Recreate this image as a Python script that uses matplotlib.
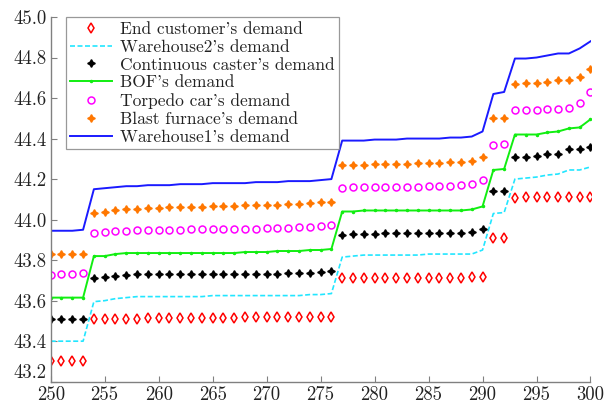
import numpy as np
import matplotlib
matplotlib.use("Agg")
import matplotlib.pyplot as plt

periods = list(range(250, 301))

end_customer = (
    [43.30] * 4
    + [43.51, 43.51, 43.51, 43.51, 43.51, 43.515, 43.515, 43.515, 43.515, 43.515, 43.515, 43.515,
       43.515, 43.515, 43.52, 43.52, 43.52, 43.52, 43.52, 43.52, 43.52, 43.52, 43.52]
    + [43.71] * 12 + [43.715, 43.715]
    + [43.91, 43.91]
    + [44.105] + [44.11] * 7
)
warehouse2 = (
    [43.40] * 4
    + [43.595, 43.60, 43.61, 43.615, 43.62, 43.62, 43.62, 43.62, 43.62, 43.62, 43.62, 43.625,
       43.625, 43.625, 43.625, 43.625, 43.625, 43.625, 43.625, 43.625, 43.63, 43.63, 43.635]
    + [43.815, 43.82, 43.825, 43.825, 43.825, 43.825, 43.825, 43.825, 43.83, 43.83, 43.83, 43.83,
       43.83, 43.85]
    + [44.03, 44.035]
    + [44.20, 44.205, 44.21, 44.22, 44.225, 44.245, 44.245, 44.26]
)
caster = (
    [43.51] * 4
    + [43.71, 43.715, 43.72, 43.725, 43.73, 43.73, 43.73, 43.73, 43.73, 43.73, 43.73, 43.73,
       43.73, 43.73, 43.73, 43.73, 43.73, 43.73, 43.735, 43.735, 43.735, 43.74, 43.745]
    + [43.925, 43.93, 43.93, 43.93, 43.935, 43.935, 43.935, 43.935, 43.935, 43.935, 43.935, 43.935,
       43.94, 43.955]
    + [44.14, 44.14]
    + [44.31, 44.31, 44.315, 44.325, 44.325, 44.35, 44.35, 44.36]
)
bof = (
    [43.615] * 4
    + [43.82, 43.82, 43.83, 43.835, 43.835, 43.835, 43.835, 43.835, 43.835, 43.835, 43.835, 43.835,
       43.835, 43.835, 43.84, 43.84, 43.84, 43.845, 43.845, 43.845, 43.85, 43.85, 43.855]
    + [44.04, 44.04, 44.045, 44.045, 44.045, 44.045, 44.045, 44.045, 44.045, 44.045, 44.045, 44.045,
       44.05, 44.065]
    + [44.245, 44.25]
    + [44.42, 44.42, 44.42, 44.43, 44.435, 44.45, 44.455, 44.495]
)
torpedo = (
    [43.725, 43.73, 43.73, 43.735]
    + [43.935, 43.94, 43.945, 43.945, 43.95, 43.95, 43.95, 43.95, 43.95, 43.955, 43.955, 43.955,
       43.955, 43.955, 43.955, 43.955, 43.96, 43.96, 43.96, 43.965, 43.965, 43.97, 43.975]
    + [44.155, 44.16, 44.16, 44.16, 44.16, 44.16, 44.16, 44.16, 44.165, 44.165, 44.165, 44.17,
       44.175, 44.195]
    + [44.37, 44.375]
    + [44.54, 44.54, 44.54, 44.545, 44.545, 44.55, 44.575, 44.63]
)
blast_furnace = (
    [43.83] * 4
    + [44.035, 44.04, 44.045, 44.05, 44.05, 44.055, 44.055, 44.06, 44.06, 44.06, 44.06, 44.065,
       44.065, 44.065, 44.07, 44.07, 44.07, 44.07, 44.075, 44.075, 44.08, 44.085, 44.085]
    + [44.27, 44.27, 44.27, 44.275, 44.275, 44.275, 44.275, 44.28, 44.28, 44.28, 44.285, 44.285,
       44.29, 44.31]
    + [44.50, 44.50]
    + [44.67, 44.675, 44.675, 44.68, 44.69, 44.69, 44.705, 44.745]
)
warehouse1 = (
    [43.945, 43.945, 43.945, 43.95]
    + [44.15, 44.155, 44.16, 44.165, 44.165, 44.17, 44.17, 44.17, 44.175, 44.175, 44.175, 44.18,
       44.18, 44.18, 44.18, 44.185, 44.185, 44.185, 44.19, 44.19, 44.19, 44.195, 44.20]
    + [44.39, 44.39, 44.39, 44.395, 44.395, 44.395, 44.40, 44.40, 44.40, 44.40, 44.405, 44.405,
       44.41, 44.435]
    + [44.62, 44.63]
    + [44.795, 44.795, 44.80, 44.81, 44.82, 44.82, 44.845, 44.88]
)

labels = [
    "End customer's demand",
    "Warehouse2's demand",
    "Continuous caster's demand",
    "BOF's demand",
    "Torpedo car's demand",
    "Blast furnace's demand",
    "Warehouse1's demand",
]
x_ticks = list(range(250, 301, 5))
y_ticks = [43.2, 43.4, 43.6, 43.8, 44.0, 44.2, 44.4, 44.6, 44.8, 45.0]

plt.rcParams["font.family"] = ["cmr10", "DejaVu Serif"]
plt.rcParams["axes.formatter.use_mathtext"] = True

fig = plt.figure(figsize=(6.07, 4.08), dpi=100)
ax = fig.add_axes([50.7 / 607, 1 - 381.7 / 408, (590.5 - 50.7) / 607, (381.7 - 17) / 408])

ax.plot(periods, end_customer, linestyle="none", marker="d", markersize=5,
        markerfacecolor="none", markeredgecolor="#ff0000", markeredgewidth=1.1, label=labels[0])
ax.plot(periods, warehouse2, linestyle="--", color="#22e6ff", linewidth=1.2,
        dashes=(3, 1.5), label=labels[1])
ax.plot(periods, caster, linestyle="none", marker=(4, 1, 0), markersize=5.5,
        color="#000000", label=labels[2])
ax.plot(periods, bof, linestyle="-", color="#11ee11", linewidth=1.4, marker=".",
        markersize=3, label=labels[3])
ax.plot(periods, torpedo, linestyle="none", marker="o", markersize=5,
        markerfacecolor="none", markeredgecolor="#ff00ff", markeredgewidth=1.1, label=labels[4])
ax.plot(periods, blast_furnace, linestyle="none", marker=(4, 1, 0), markersize=5.5,
        color="#ff7700", label=labels[5])
ax.plot(periods, warehouse1, linestyle="-", color="#1a1aff", linewidth=1.4, label=labels[6])

ax.set_xlim(250, 300)
ax.set_ylim(43.2, 45.0)
ax.set_xticks(x_ticks)
ax.set_xticklabels([str(v) for v in x_ticks])
ax.set_yticks(y_ticks)
ax.set_yticklabels([f"{v:.1f}" for v in y_ticks])

for side in ("top", "right"):
    ax.spines[side].set_visible(False)
for side in ("left", "bottom"):
    ax.spines[side].set_color("#808080")
    ax.spines[side].set_linewidth(1.0)
ax.tick_params(direction="in", length=4, width=0.8, color="#808080",
               labelsize=13.5, labelcolor="#222222", pad=3)
# lift the lowest y label so it clears the first x label
ax.get_yticklabels()[0].set_verticalalignment("bottom")

leg = ax.legend(loc="upper left", bbox_to_anchor=(15 / 540, 1.0), borderaxespad=0,
                fontsize=12.5, frameon=True, fancybox=False, handlelength=2.4,
                handletextpad=0.5, labelspacing=0.15, borderpad=0.25)
leg.get_frame().set_edgecolor("#808080")
leg.get_frame().set_linewidth(0.9)
for t in leg.get_texts():
    t.set_color("#222222")

fig.savefig("out.png", dpi=100)
